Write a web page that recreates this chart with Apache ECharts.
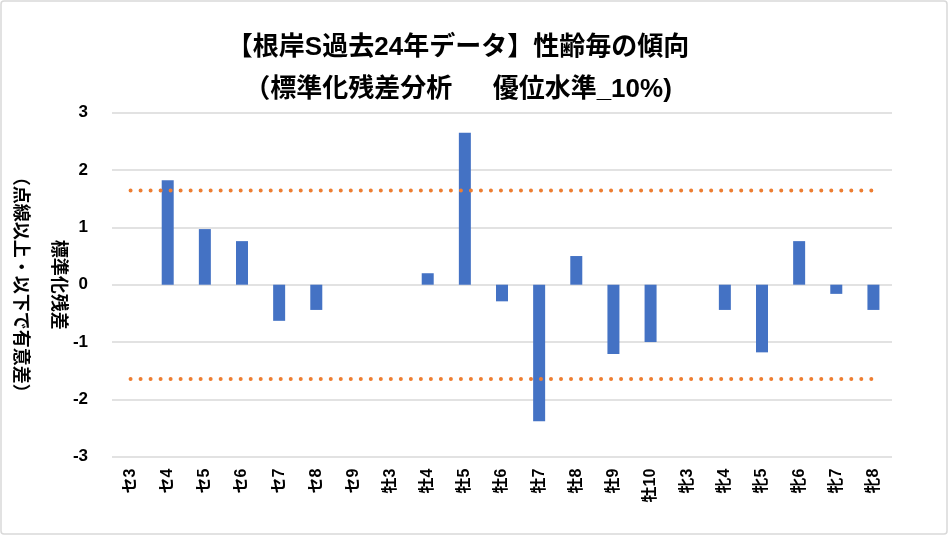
<!DOCTYPE html>
<html>
<head>
<meta charset="utf-8">
<script src="https://cdn.jsdelivr.net/npm/echarts@6/dist/echarts.min.js"></script>
<style>
html,body{margin:0;padding:0;background:#fff;}
#main{width:949px;height:536px;}
</style>
</head>
<body>
<div id="main"></div>
<script>
var titleText = '【根岸S過去24年データ】性齢毎の傾向\n（標準化残差分析　  優位水準_10%)';
var yAxisTitle = '標準化残差\n（点線以上・以下で有意差）';
var categories = ['セ3','セ4','セ5','セ6','セ7','セ8','セ9','牡3','牡4','牡5','牡6','牡7','牡8','牡9','牡10','牝3','牝4','牝5','牝6','牝7','牝8'];
var residuals = [0, 1.82, 0.97, 0.76, -0.63, -0.44, 0, 0, 0.20, 2.65, -0.29, -2.38, 0.50, -1.21, -1.00, 0, -0.44, -1.18, 0.76, -0.16, -0.44];
var upperLimit = 1.645;
var lowerLimit = -1.645;
var yTicks = { min: -3, max: 3, interval: 1 };

var upperLine = categories.map(function(){ return upperLimit; });
var lowerLine = categories.map(function(){ return lowerLimit; });

var FONT = '"Liberation Sans", "Noto Sans CJK JP", sans-serif';
var chart = echarts.init(document.getElementById('main'), null, {renderer:'canvas'});
var dotted = {color:'#ED7D31', width:4, type:[0.01, 10], cap:'round'};
chart.setOption({
  backgroundColor:'#fff',
  animation:false,
  title:{
    text:titleText,
    left:453, top:22, textAlign:'center',
    textStyle:{fontFamily:FONT, fontSize:26, fontWeight:'bold', color:'#000', lineHeight:42}
  },
  graphic:[{type:'rect', shape:{x:1, y:1, width:946, height:533, r:3}, style:{fill:'none', stroke:'#d9d9d9', lineWidth:1.5}, silent:true}],
  grid:{left:112, right:57, top:112.7, bottom:79.3, containLabel:false, outerBoundsMode:'none'},
  xAxis:{
    type:'category', data:categories,
    axisLine:{show:false}, axisTick:{show:false},
    axisLabel:{rotate:90, fontFamily:FONT, fontSize:16, fontWeight:'bold', color:'#000', margin:12, interval:0}
  },
  yAxis:{
    type:'value', min:yTicks.min, max:yTicks.max, interval:yTicks.interval,
    axisLine:{show:false}, axisTick:{show:false},
    splitLine:{lineStyle:{color:'#d9d9d9', width:1.5}},
    axisLabel:{fontFamily:FONT, fontSize:17, fontWeight:'bold', color:'#000', margin:24},
    name:yAxisTitle, nameLocation:'middle', nameRotate:-90, nameGap:35, nameMoveOverlap:false,
    nameTextStyle:{fontFamily:FONT, fontSize:18, fontWeight:'bold', color:'#000', lineHeight:38}
  },
  series:[
    {type:'bar', data:residuals, barWidth:12, itemStyle:{color:'#4472C4'}},
    {type:'line', data:upperLine, symbol:'none', lineStyle:dotted, z:3},
    {type:'line', data:lowerLine, symbol:'none', lineStyle:dotted, z:3}
  ]
});
</script>
</body>
</html>
